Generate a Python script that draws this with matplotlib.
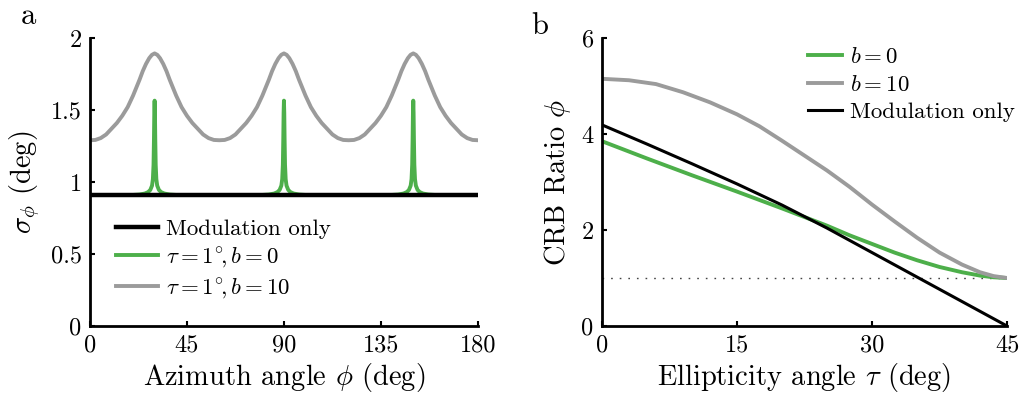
import numpy as np
import matplotlib
matplotlib.use("Agg")
import matplotlib.pyplot as plt

plt.rcParams['font.family'] = 'serif'
plt.rcParams['font.serif'] = ['cmr10', 'DejaVu Serif']
plt.rcParams['mathtext.fontset'] = 'cm'
plt.rcParams['axes.unicode_minus'] = False
plt.rcParams['axes.formatter.use_mathtext'] = True

GREEN = '#4daf4a'
GRAY = '#9b9b9b'

# panel a: sigma_phi vs azimuth angle
az_gray = [0, 2.5, 5, 7.5, 10, 12.5, 15, 17.5, 20, 21.5, 23, 24.5, 26, 27.5, 28.75, 30,
           31.25, 32.5, 34, 35.5, 37, 38.5, 40, 42.5, 45, 47.5, 50, 52.5, 55, 57.5,
           60, 62.5, 65, 67.5, 70, 72.5, 75, 77.5, 80, 81.5, 83, 84.5, 86, 87.5, 88.75, 90,
           91.25, 92.5, 94, 95.5, 97, 98.5, 100, 102.5, 105, 107.5, 110, 112.5, 115, 117.5,
           120, 122.5, 125, 127.5, 130, 132.5, 135, 137.5, 140, 141.5, 143, 144.5, 146, 147.5, 148.75, 150,
           151.25, 152.5, 154, 155.5, 157, 158.5, 160, 162.5, 165, 167.5, 170, 172.5, 175, 177.5, 180]
sig_gray = [1.29, 1.292, 1.305, 1.33, 1.37, 1.41, 1.46, 1.52, 1.60, 1.655, 1.71, 1.77, 1.82, 1.86, 1.883, 1.893,
            1.883, 1.86, 1.82, 1.77, 1.71, 1.655, 1.60, 1.52, 1.46, 1.41, 1.37, 1.33, 1.305, 1.292,
            1.29, 1.292, 1.305, 1.33, 1.37, 1.41, 1.46, 1.52, 1.60, 1.655, 1.71, 1.77, 1.82, 1.86, 1.883, 1.893,
            1.883, 1.86, 1.82, 1.77, 1.71, 1.655, 1.60, 1.52, 1.46, 1.41, 1.37, 1.33, 1.305, 1.292,
            1.29, 1.292, 1.305, 1.33, 1.37, 1.41, 1.46, 1.52, 1.60, 1.655, 1.71, 1.77, 1.82, 1.86, 1.883, 1.893,
            1.883, 1.86, 1.82, 1.77, 1.71, 1.655, 1.60, 1.52, 1.46, 1.41, 1.37, 1.33, 1.305, 1.292, 1.29]

az_green = [0, 20, 23, 25.5, 27, 28, 28.8, 29.2, 29.5, 29.7, 29.85, 30,
            30.15, 30.3, 30.5, 30.8, 31.2, 32, 33, 34.5, 37, 40,
            80, 83, 85.5, 87, 88, 88.8, 89.2, 89.5, 89.7, 89.85, 90,
            90.15, 90.3, 90.5, 90.8, 91.2, 92, 93, 94.5, 97, 100,
            140, 143, 145.5, 147, 148, 148.8, 149.2, 149.5, 149.7, 149.85, 150,
            150.15, 150.3, 150.5, 150.8, 151.2, 152, 153, 154.5, 157, 160, 180]
sig_green = [0.91, 0.91, 0.913, 0.92, 0.93, 0.945, 0.975, 1.02, 1.12, 1.30, 1.48, 1.565,
             1.48, 1.30, 1.12, 1.02, 0.975, 0.945, 0.93, 0.92, 0.913, 0.91,
             0.91, 0.913, 0.92, 0.93, 0.945, 0.975, 1.02, 1.12, 1.30, 1.48, 1.565,
             1.48, 1.30, 1.12, 1.02, 0.975, 0.945, 0.93, 0.92, 0.913, 0.91,
             0.91, 0.913, 0.92, 0.93, 0.945, 0.975, 1.02, 1.12, 1.30, 1.48, 1.565,
             1.48, 1.30, 1.12, 1.02, 0.975, 0.945, 0.93, 0.92, 0.913, 0.91, 0.91]

az_mod = [0, 180]
sig_mod = [0.91, 0.91]

# panel b: CRB ratio vs ellipticity angle
tau_b0 = [0, 5, 10, 15, 20, 22.5, 25, 27.5, 30, 32.5, 35, 37.5, 40, 42, 43.5, 45]
crb_b0 = [3.85, 3.49, 3.14, 2.80, 2.45, 2.27, 2.09, 1.89, 1.71, 1.53, 1.37, 1.23, 1.12, 1.05, 1.015, 1.0]
tau_b10 = [0, 3, 6, 9, 12, 15, 17.5, 20, 22.5, 25, 27.5, 30, 32.5, 35, 37.5, 40, 42, 43.5, 45]
crb_b10 = [5.15, 5.12, 5.04, 4.87, 4.66, 4.41, 4.16, 3.86, 3.55, 3.24, 2.90, 2.53, 2.18, 1.84, 1.53, 1.28, 1.12, 1.04, 1.0]
tau_mod = [0, 5, 10, 15, 20, 25, 30, 35, 40, 45]
crb_mod = [4.19, 3.79, 3.38, 2.96, 2.52, 2.04, 1.53, 1.02, 0.51, 0.0]
tau_ref = [0, 45]
crb_ref = [1.0, 1.0]

fig = plt.figure(figsize=(10.21, 4.0), dpi=100)
ax1 = fig.add_axes([0.0881, 0.185, 0.380, 0.72])
ax2 = fig.add_axes([0.5896, 0.185, 0.3967, 0.72])

l_mod, = ax1.plot(az_mod, sig_mod, color='black', lw=3.2, label='Modulation only', zorder=3)
l_g, = ax1.plot(az_green, sig_green, color=GREEN, lw=2.8, label=r'$\tau = 1^{\circ}\!, b = 0$', zorder=2)
l_gr, = ax1.plot(az_gray, sig_gray, color=GRAY, lw=2.8, label=r'$\tau = 1^{\circ}\!, b = 10$', zorder=2)
ax1.set_xlim(0, 180)
ax1.set_ylim(0, 2)
ax1.set_xticks([0, 45, 90, 135, 180])
ax1.set_xticklabels(['0', '45', '90', '135', '180'])
ax1.set_yticks([0, 0.5, 1, 1.5, 2])
ax1.set_yticklabels(['0', '0.5', '1', '1.5', '2'])
ax1.set_xlabel(r'Azimuth angle $\phi$ (deg)', fontsize=20.5, labelpad=3)
ax1.set_ylabel(r'$\sigma_\phi$ (deg)', fontsize=20.5, labelpad=6)
fig.legend(handles=[l_mod, l_g, l_gr], loc='upper left', bbox_to_anchor=(116 / 1021, 0.452),
           frameon=False, fontsize=16.5, handlelength=1.85, handletextpad=0.35,
           labelspacing=0.25, borderpad=0, borderaxespad=0)

ax2.plot(tau_ref, crb_ref, color='#444444', lw=1, ls=(0, (1.2, 5)), zorder=1)
h1, = ax2.plot(tau_b0, crb_b0, color=GREEN, lw=2.8, label=r'$b = 0$', zorder=2)
h2, = ax2.plot(tau_b10, crb_b10, color=GRAY, lw=2.8, label=r'$b = 10$', zorder=2)
h3, = ax2.plot(tau_mod, crb_mod, color='black', lw=2.2, label='Modulation only', zorder=3)
ax2.set_xlim(0, 45)
ax2.set_ylim(0, 6)
ax2.set_xticks([0, 15, 30, 45])
ax2.set_xticklabels(['0', '15', '30', '45'])
ax2.set_yticks([0, 2, 4, 6])
ax2.set_yticklabels(['0', '2', '4', '6'])
ax2.set_xlabel(r'Ellipticity angle $\tau$ (deg)', fontsize=20.5, labelpad=3)
ax2.set_ylabel(r'CRB Ratio $\phi$', fontsize=20.5, labelpad=6)
fig.legend(handles=[h1, h2, h3], loc='upper left', bbox_to_anchor=(808 / 1021, 0.882),
           frameon=False, fontsize=16.5, handlelength=1.5, handletextpad=0.35,
           labelspacing=0.33, borderpad=0, borderaxespad=0)

for ax in (ax1, ax2):
    ax.spines['top'].set_visible(False)
    ax.spines['right'].set_visible(False)
    ax.spines['left'].set_linewidth(2)
    ax.spines['bottom'].set_linewidth(2)
    ax.tick_params(direction='in', length=3.5, width=1.5, labelsize=17.5, pad=6)

fig.text(0.028, 0.96, 'a', fontsize=22, va='center', ha='center')
fig.text(0.529, 0.935, 'b', fontsize=22, va='center', ha='center')

fig.savefig('out.png', dpi=100)
